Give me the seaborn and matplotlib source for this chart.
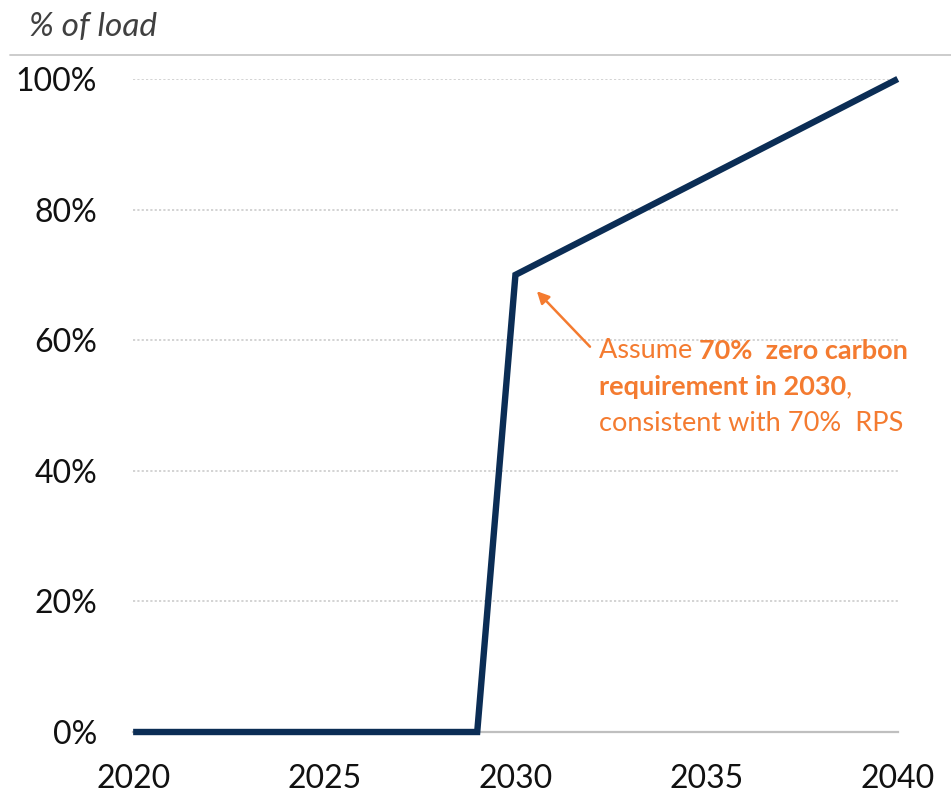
import matplotlib
matplotlib.use("Agg")
import matplotlib.pyplot as plt
import seaborn as sns
import pandas as pd

years = list(range(2020, 2041))
share_pct = [0, 0, 0, 0, 0, 0, 0, 0, 0, 0,
             70, 73, 76, 79, 82, 85, 88, 91, 94, 97, 100]
x_ticks = [2020, 2025, 2030, 2035, 2040]
y_ticks = [0, 20, 40, 60, 80, 100]
y_tick_labels = ["0%", "20%", "40%", "60%", "80%", "100%"]

sns.set_theme(style="white")
plt.rcParams["font.family"] = ["Lato", "DejaVu Sans"]

navy = "#0B2D55"
orange = "#F47B30"

df = pd.DataFrame({"year": years, "share": share_pct})

fig = plt.figure(figsize=(9.51, 7.96), dpi=100)
ax = fig.add_axes([0.14, 0.0804, 0.804, 0.8204])

sns.lineplot(data=df, x="year", y="share", ax=ax, color=navy,
             linewidth=4.6, clip_on=False, zorder=5)
for ln in ax.lines:
    ln.set_solid_joinstyle("miter")
    ln.set_solid_capstyle("butt")

ax.set_xlim(2020, 2040)
ax.set_ylim(0, 100)
ax.set_xticks(x_ticks)
ax.set_xticklabels([str(t) for t in x_ticks])
ax.set_yticks(y_ticks)
ax.set_yticklabels(y_tick_labels)
ax.set_xlabel("")
ax.set_ylabel("")

for y in y_ticks[1:]:
    ax.axhline(y, color="#D0D0D0", linestyle=(0, (1.2, 1.2)), linewidth=1.3,
               zorder=1)

for side in ["left", "right", "top"]:
    ax.spines[side].set_visible(False)
ax.spines["bottom"].set_color("#BFBFBF")
ax.spines["bottom"].set_linewidth(1.6)

ax.tick_params(axis="both", length=0, labelsize=23, labelcolor="#111111")
ax.tick_params(axis="x", pad=23)
ax.tick_params(axis="y", pad=26)

# header above the plot
fig.text(0.03, 0.966, "% of load", fontsize=24, style="italic",
         color="#404040", ha="left", va="center")
fig.add_artist(plt.Line2D([0.01, 1.0], [0.931, 0.931],
                          color="#C8C8C8", linewidth=1.3))

# annotation for the 2030 requirement
ax.annotate("", xy=(2030.56, 67.5), xytext=(2031.95, 59.0),
            arrowprops=dict(arrowstyle="-|>,head_length=0.6,head_width=0.3",
                            color=orange, linewidth=1.8, shrinkA=0, shrinkB=0))
tx, ty = 2032.18, 58.4
fs = 19.5
t1 = ax.text(tx, ty, "Assume ", fontsize=fs, color=orange, ha="left",
             va="center")
fig.canvas.draw()
t2 = ax.annotate("70%  zero carbon", xycoords=t1, xy=(1, 0.5), va="center",
                 ha="left", fontsize=fs, fontweight="bold", color=orange)
t3 = ax.text(tx, ty - 5.6, "requirement in 2030", fontsize=fs,
             fontweight="bold", color=orange, ha="left", va="center")
ax.annotate(",", xycoords=t3, xy=(1, 0.5), va="center", ha="left",
            fontsize=fs, color=orange)
ax.text(tx, ty - 11.2, "consistent with 70%  RPS", fontsize=fs,
        color=orange, ha="left", va="center")

fig.savefig("out.png", dpi=100)
